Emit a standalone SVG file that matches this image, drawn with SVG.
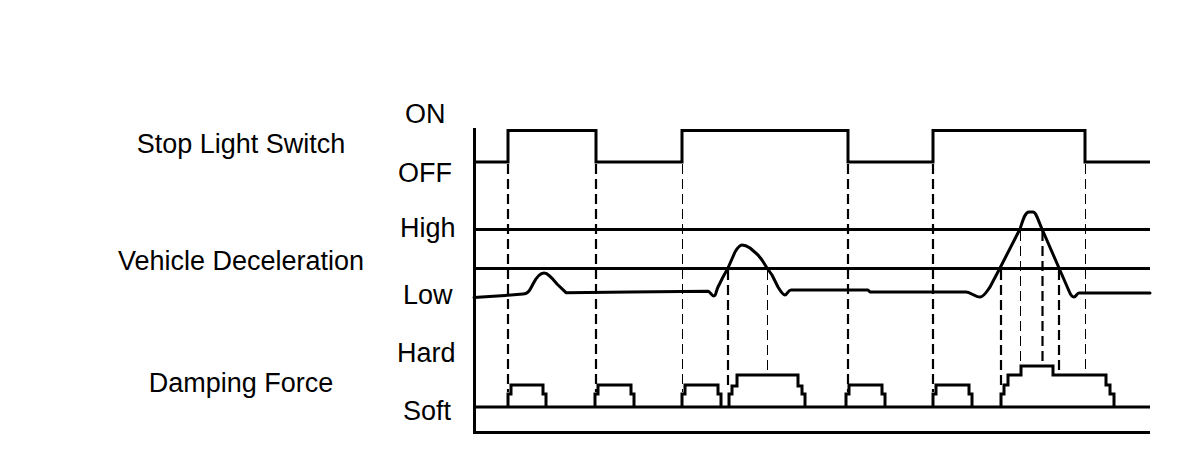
<svg xmlns="http://www.w3.org/2000/svg" width="1200" height="476" viewBox="0 0 1200 476">
<style>
  .t { font-family: "Liberation Sans", Arial, sans-serif; font-size: 27px; fill: #000; }
  .c { text-anchor: middle; }
  .s { fill: none; stroke: #000; stroke-width: 3; stroke-linejoin: miter; stroke-linecap: butt; }
  .curve { fill: none; stroke: #000; stroke-width: 3; stroke-linejoin: round; stroke-linecap: round; }
  .db { fill: none; stroke: #000; stroke-width: 2.2; stroke-dasharray: 10 5; }
  .dt { fill: none; stroke: #000; stroke-width: 1.3; stroke-dasharray: 10 5; shape-rendering: crispEdges; }
</style>
<rect width="1200" height="476" fill="#fff"/>

<g id="labels">
  <text class="t c" x="241" y="152.5">Stop Light Switch</text>
  <text class="t c" x="241" y="270">Vehicle Deceleration</text>
  <text class="t c" x="241" y="392">Damping Force</text>
  <text class="t" x="405" y="123">ON</text>
  <text class="t" x="398" y="182">OFF</text>
  <text class="t" x="400" y="237">High</text>
  <text class="t" x="403" y="304">Low</text>
  <text class="t" x="397" y="362">Hard</text>
  <text class="t" x="403" y="420">Soft</text>
</g>

<g id="axes">
  <path class="s" d="M474.5,128 V432.5 H1150"/>
  <path class="s" d="M474,229.5 H1150"/>
  <path class="s" d="M474,268.5 H1150"/>
  <path class="s" d="M474,407 H1150"/>
</g>

<g id="stop-light-switch">
  <path class="s" d="M474,162 H508 V130.5 H596 V162 H682 V130.5 H848 V162 H933 V130.5 H1085 V162 H1150"/>
</g>

<g id="vehicle-deceleration">
  <path class="curve" d="M474,297.5 L505,295.5 L523,294 C528,294 530,290 533,284 C537,276 540,273 544,273 C548,273 552,278 557,284 L566,292.7 L630,292 L708,291.3 C710,291.5 712,296 714,296 C716,296 716,291 718,287 L723,277 L728,268 L735,252 C738,247 740,245 742,245 C745,245 747,246 750,248 L758,255 L762,260 L767,268 L772,275 L778,287 C781,292 783,295 785,295 C787,295 788,290 791,290 L868,290 L870,292 L966,292 C970,292 975,297 980,297 C984,297 987,291 990,287 L1000,268 L1020,229 C1023,220 1025,212 1029,212 L1033,212 C1036,212 1038,220 1042,229 L1059,268 L1069,291 C1071,296 1072,297 1074,297 C1076,297 1077,293 1079,293 L1150,293"/>
</g>

<g id="damping-force">
  <polyline class="s" points="508,407 508,394 511,394 511,385 543,385 543,394 546,394 546,407"/>
  <polyline class="s" points="595,407 595,394 598,394 598,385 631,385 631,394 634,394 634,407"/>
  <polyline class="s" points="682,407 682,394 685,394 685,385 718,385 718,394 721,394 721,407"/>
  <polyline class="s" points="729,407 729,394 732,394 732,386 737,386 737,375 798,375 798,386 802,386 802,394 805,394 805,407"/>
  <polyline class="s" points="846,407 846,394 849,394 849,385 882,385 882,394 885,394 885,407"/>
  <polyline class="s" points="933,407 933,394 936,394 936,385 969,385 969,394 972,394 972,407"/>
  <polyline class="s" points="1001,407 1001,394 1004,394 1004,385 1008,385 1008,375 1021,375 1021,366 1053,366 1053,375 1106,375 1106,385 1110,385 1110,394 1114,394 1114,407"/>
</g>

<g id="connectors">
  <line class="db" x1="508" y1="164" x2="508" y2="392"/>
  <line class="db" x1="596" y1="164" x2="596" y2="392"/>
  <line class="dt" x1="682.5" y1="164" x2="682.5" y2="392"/>
  <line class="db" x1="728" y1="270" x2="728" y2="386"/>
  <line class="dt" x1="767.5" y1="270" x2="767.5" y2="374"/>
  <line class="db" x1="848" y1="164" x2="848" y2="392"/>
  <line class="db" x1="933" y1="164" x2="933" y2="392"/>
  <line class="db" x1="1001" y1="270" x2="1001" y2="386"/>
  <line class="dt" x1="1020.5" y1="231" x2="1020.5" y2="365"/>
  <line class="db" x1="1042.5" y1="231" x2="1042.5" y2="365"/>
  <line class="db" x1="1059" y1="270" x2="1059" y2="374"/>
  <line class="dt" x1="1085.5" y1="164" x2="1085.5" y2="374"/>
</g>
</svg>
